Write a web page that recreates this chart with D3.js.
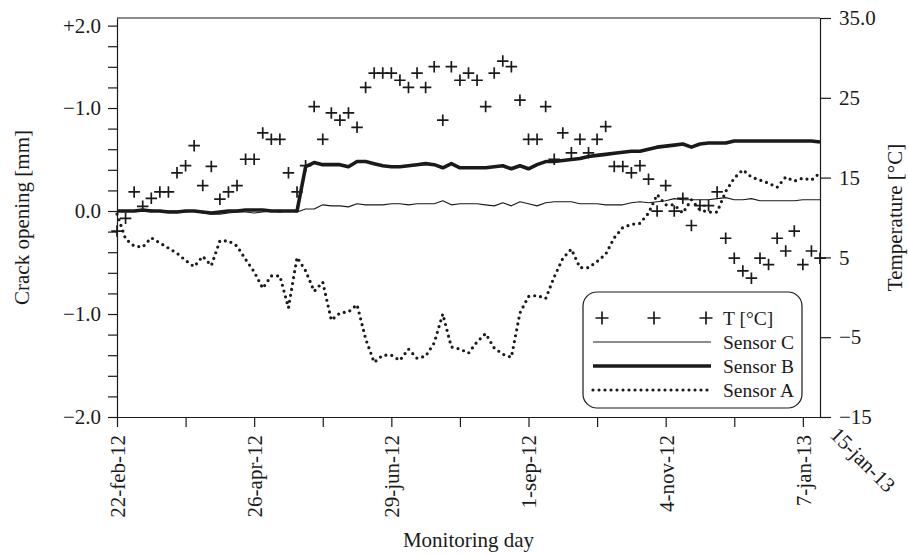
<!DOCTYPE html>
<html>
<head>
<meta charset="utf-8">
<script src="https://cdn.jsdelivr.net/npm/d3@7"></script>
<style>
  html, body { margin: 0; padding: 0; background: #fff; }
  svg { display: block; }
  text { font-family: "Liberation Serif", "Times New Roman", serif; fill: #1a1a1a; }
</style>
</head>
<body>
<svg id="chart" width="909" height="556"></svg>
<script>
// ---------- data ----------
const startDate = new Date(2012, 1, 22);   // 22-feb-12
const endDate   = new Date(2013, 0, 15);   // 15-jan-13

// sampling days (offset from 22-feb-12)
const days = [0,4,8,12,16,20,24,28,32,36,40,44,48,52,56,60,64,68,72,76,80,84,88,92,96,100,
  104,108,112,116,120,124,128,132,136,140,144,148,152,156,160,164,168,172,176,180,184,188,192,
  196,200,204,208,212,216,220,224,228,232,236,240,244,248,252,256,260,264,268,272,276,280,284,
  288,292,296,300,304,308,312,316,320,324,328];

// temperature [°C]
const temperature = [8.3,9.9,13.2,11.4,12.4,13.2,13.2,15.6,16.5,19.0,
  14.0,16.4,12.3,13.2,14.0,17.3,17.3,20.6,19.8,19.8,
  15.6,13.2,16.5,23.9,19.8,23.1,22.2,23.1,21.3,26.3,
  28.1,28.1,28.1,27.2,26.3,28.1,26.3,28.9,22.2,28.9,
  27.2,28.1,27.2,23.9,28.1,29.6,28.9,24.7,19.8,19.8,
  23.9,17.3,20.6,18.1,19.8,18.1,19.8,21.4,16.4,16.4,
  15.6,16.5,14.8,10.8,14.0,10.8,12.4,9.0,11.5,11.5,
  13.2,7.4,4.9,3.3,2.4,4.9,4.1,7.4,5.8,8.3,
  4.1,5.8,4.9];

// crack opening [mm]
const sensorA = [-0.03,-0.27,-0.34,-0.35,-0.26,-0.31,-0.36,-0.41,-0.48,-0.54,
  -0.44,-0.53,-0.29,-0.29,-0.34,-0.47,-0.59,-0.75,-0.63,-0.63,
  -0.94,-0.45,-0.58,-0.78,-0.69,-1.06,-0.99,-0.98,-0.91,-1.24,
  -1.47,-1.40,-1.40,-1.45,-1.34,-1.43,-1.41,-1.28,-1.00,-1.32,
  -1.34,-1.38,-1.27,-1.19,-1.33,-1.39,-1.42,-0.99,-0.83,-0.82,
  -0.85,-0.64,-0.46,-0.37,-0.55,-0.55,-0.49,-0.42,-0.26,-0.16,
  -0.13,-0.12,-0.02,0.16,0.06,0.06,-0.02,0.11,0.01,-0.01,
  -0.01,0.19,0.32,0.40,0.33,0.30,0.27,0.23,0.33,0.29,
  0.32,0.30,0.37];

const sensorB = [0,0,0,0.01,0,0,-0.01,-0.01,0,0,
  -0.01,-0.02,-0.01,0,0,0.01,0.01,0.01,0,0,
  0,0,0.43,0.47,0.45,0.45,0.45,0.43,0.48,0.48,
  0.46,0.44,0.43,0.43,0.44,0.45,0.46,0.45,0.42,0.46,
  0.42,0.42,0.42,0.42,0.43,0.44,0.41,0.44,0.41,0.45,
  0.48,0.48,0.49,0.50,0.51,0.53,0.54,0.55,0.56,0.57,
  0.58,0.58,0.60,0.62,0.63,0.64,0.65,0.62,0.65,0.66,
  0.66,0.66,0.68,0.68,0.68,0.68,0.68,0.68,0.68,0.68,
  0.68,0.68,0.67];

const sensorC = [0,0,0,0,0.01,0,0,0,-0.01,0,
  -0.02,-0.03,-0.03,-0.02,-0.01,-0.01,-0.02,-0.01,0,-0.01,
  0,-0.01,0.02,0.02,0.06,0.05,0.05,0.04,0.07,0.06,
  0.06,0.06,0.07,0.07,0.06,0.07,0.07,0.07,0.10,0.06,
  0.07,0.07,0.07,0.06,0.05,0.08,0.05,0.09,0.07,0.05,
  0.08,0.09,0.09,0.09,0.07,0.07,0.07,0.06,0.06,0.06,
  0.08,0.09,0.08,0.09,0.10,0.12,0.11,0.11,0.11,0.11,
  0.12,0.13,0.11,0.11,0.12,0.10,0.10,0.10,0.10,0.10,
  0.11,0.11,0.11];

// axis ticks / labels
const xTickDays   = [0,32,64,96,128,160,192,224,256,288,320];
const xTickLabels = ["22-feb-12","","26-apr-12","","29-jun-12","","1-sep-12","","4-nov-12","","7-jan-13"];
const xEndLabel   = "15-jan-13";

const leftTicks  = [-2.0,-1.8,-1.6,-1.4,-1.2,-1.0,-0.8,-0.6,-0.4,-0.2,0,0.2,0.4,0.6,0.8,1.0,1.2,1.4,1.6,1.8];
const leftLabelAt   = [-2.0, -1.0, 0, 1.0, 1.8];
const leftLabelText = ["\u22122.0", "\u22121.0", "0.0", "\u22121.0", "+2.0"];
const leftDomain = [-2.0, 1.874];

const rightTicks  = [35, 25, 15, 5, -5, -15];
const rightLabels = ["35.0", "25", "15", "5", "\u22125", "\u221215"];

const legendLabels = ["T [\u00b0C]", "Sensor C", "Sensor B", "Sensor A"];

// ---------- layout ----------
const M = { left: 117, right: 820, top: 18, bottom: 417 };
const ink = "#1a1a1a";
const svg = d3.select("#chart");

const dayDate = d => d3.timeDay.offset(startDate, d);
const x  = d3.scaleTime().domain([startDate, endDate]).range([M.left, M.right]);
const yL = d3.scaleLinear().domain(leftDomain).range([M.bottom, M.top]);
const yR = d3.scaleLinear().domain([-15, 35]).range([M.bottom, M.top]);

// top frame line
svg.append("line").attr("x1", M.left).attr("x2", M.right).attr("y1", M.top).attr("y2", M.top)
  .attr("stroke", ink).attr("stroke-width", 1.2);

// left axis
const gL = svg.append("g").attr("transform", `translate(${M.left},0)`)
  .call(d3.axisLeft(yL).tickValues(leftTicks).tickSize(9).tickSizeOuter(0).tickPadding(7)
    .tickFormat(v => { const i = leftLabelAt.findIndex(a => Math.abs(a - v) < 1e-6); return i >= 0 ? leftLabelText[i] : ""; }));

// right axis
const gR = svg.append("g").attr("transform", `translate(${M.right},0)`)
  .call(d3.axisRight(yR).tickValues(rightTicks).tickSize(11).tickSizeOuter(0).tickPadding(8)
    .tickFormat((v, i) => rightLabels[i]));

// bottom axis
const gB = svg.append("g").attr("transform", `translate(0,${M.bottom})`)
  .call(d3.axisBottom(x).tickValues(xTickDays.map(dayDate)).tickSize(10).tickSizeOuter(0)
    .tickFormat((d, i) => xTickLabels[i]));
gB.selectAll(".tick text")
  .attr("transform", "rotate(-90)")
  .attr("text-anchor", "end")
  .attr("x", -18).attr("y", 0).attr("dy", "0.35em");

[gL, gR, gB].forEach(g => {
  g.selectAll("path.domain").attr("stroke", ink).attr("stroke-width", 1.2);
  g.selectAll(".tick line").attr("stroke", ink).attr("stroke-width", 1.2);
  g.selectAll(".tick text").attr("font-size", 21).attr("fill", ink)
    .style("font-family", '"Liberation Serif", "Times New Roman", serif');
});

// end label 15-jan-13
svg.append("text").text(xEndLabel)
  .attr("transform", `translate(${M.right + 9},${M.bottom + 19}) rotate(45)`)
  .attr("font-size", 21).attr("text-anchor", "start");

// axis titles
svg.append("text").text("Crack opening [mm]")
  .attr("transform", `translate(29,${(M.top + M.bottom) / 2}) rotate(-90)`)
  .attr("text-anchor", "middle").attr("font-size", 21);
svg.append("text").text("Temperature [\u00b0C]")
  .attr("transform", `translate(902,${(M.top + M.bottom) / 2}) rotate(-90)`)
  .attr("text-anchor", "middle").attr("font-size", 21);
svg.append("text").text("Monitoring day")
  .attr("x", (M.left + M.right) / 2).attr("y", 547)
  .attr("text-anchor", "middle").attr("font-size", 21);

// ---------- series ----------
const lineOf = vals => d3.line().x((d, i) => x(dayDate(days[i]))).y((d) => yL(d))(vals);
const dotW = 3.2, dotDash = "0 6";

svg.append("path").attr("d", lineOf(sensorC))
  .attr("fill", "none").attr("stroke", ink).attr("stroke-width", 1.1).attr("stroke-linejoin", "round");
svg.append("path").attr("d", lineOf(sensorB))
  .attr("fill", "none").attr("stroke", ink).attr("stroke-width", 3.6).attr("stroke-linejoin", "round");
svg.append("path").attr("d", lineOf(sensorA))
  .attr("fill", "none").attr("stroke", ink).attr("stroke-width", dotW)
  .attr("stroke-linecap", "round").attr("stroke-dasharray", dotDash);

const crossSize = 11.5;
const crossPath = (cx, cy, s) => `M${cx - s / 2},${cy}H${cx + s / 2}M${cx},${cy - s / 2}V${cy + s / 2}`;
svg.append("g").selectAll("path").data(temperature).join("path")
  .attr("d", (d, i) => crossPath(x(dayDate(days[i])), yR(d), crossSize))
  .attr("stroke", ink).attr("stroke-width", 1.7).attr("fill", "none");

// ---------- legend ----------
const lg = svg.append("g");
lg.append("rect").attr("x", 583).attr("y", 292).attr("width", 219).attr("height", 116)
  .attr("rx", 14).attr("ry", 14).attr("fill", "#fff").attr("stroke", ink).attr("stroke-width", 1.2);
const rowY = [318, 342, 366, 390];
const lx0 = 593, lx1 = 711;
[602, 654, 706].forEach(cx => lg.append("path").attr("d", crossPath(cx, rowY[0], 13))
  .attr("stroke", ink).attr("stroke-width", 1.7));
lg.append("line").attr("x1", lx0).attr("x2", lx1).attr("y1", rowY[1]).attr("y2", rowY[1])
  .attr("stroke", ink).attr("stroke-width", 1.1);
lg.append("line").attr("x1", lx0).attr("x2", lx1).attr("y1", rowY[2]).attr("y2", rowY[2])
  .attr("stroke", ink).attr("stroke-width", 3.6);
lg.append("line").attr("x1", lx0).attr("x2", lx1).attr("y1", rowY[3]).attr("y2", rowY[3])
  .attr("stroke", ink).attr("stroke-width", dotW).attr("stroke-linecap", "round").attr("stroke-dasharray", dotDash);
legendLabels.forEach((t, i) => lg.append("text").text(t)
  .attr("x", 723).attr("y", rowY[i]).attr("dy", "0.34em").attr("font-size", 19.5));
</script>
</body>
</html>
